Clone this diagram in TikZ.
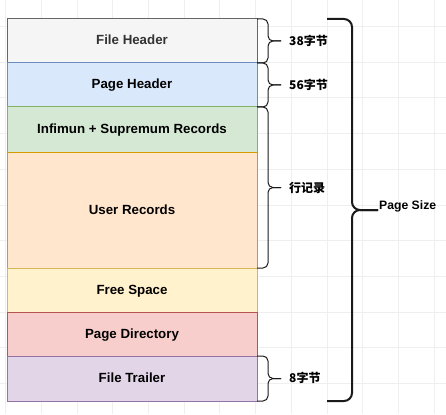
\documentclass[tikz,border=0pt]{standalone}
\usepackage{fontspec}
\setmainfont{Liberation Sans}
\newfontfamily\cjk{Noto Sans CJK SC}
\definecolor{gridc}{HTML}{EFEFEF}
\definecolor{fhF}{HTML}{F5F5F5}\definecolor{fhD}{HTML}{666666}\definecolor{fhT}{HTML}{333333}
\definecolor{phF}{HTML}{DAE8FC}\definecolor{phD}{HTML}{6C8EBF}
\definecolor{isF}{HTML}{D5E8D4}\definecolor{isD}{HTML}{82B366}
\definecolor{urF}{HTML}{FFE6CC}\definecolor{urD}{HTML}{D79B00}
\definecolor{fsF}{HTML}{FFF2CC}\definecolor{fsD}{HTML}{D6B656}
\definecolor{pdF}{HTML}{F8CECC}\definecolor{pdD}{HTML}{B85450}
\definecolor{ftF}{HTML}{E1D5E7}\definecolor{ftD}{HTML}{9673A6}
\definecolor{brc}{HTML}{1A1A1A}
\newcommand\mybrace[6]{% x0 x1 x2 y0 y1 radius
  \draw[rounded corners=#6] (#1,#4) -- (#2,#4) -- (#2,{(#4+#5)/2}) -- (#3,{(#4+#5)/2});
  \draw[rounded corners=#6] (#1,#5) -- (#2,#5) -- (#2,{(#4+#5)/2}) -- (#3,{(#4+#5)/2});}
\tikzset{
  seg/.style={draw, line width=1pt, minimum width=250pt, inner sep=0pt,
    font=\fontsize{13.3}{15}\selectfont\bfseries, text height=0.95em, text depth=0.15em},
  lab/.style={anchor=west, inner sep=1pt, font=\cjk\fontsize{12}{14}\selectfont\bfseries},
  sbrace/.style={line width=1pt, draw=brc},
  bbrace/.style={line width=2pt, draw=brc}
}
\begin{document}
\begin{tikzpicture}[x=1pt,y=-1pt]
\useasboundingbox (0,0) rectangle (446,414);
\foreach \k in {0,...,12} {
  \draw[gridc, line width=0.8pt] ({5.6+35.7*\k},0) -- ({5.6+35.7*\k},414);
}
\foreach \k in {0,...,11} {
  \draw[gridc, line width=0.8pt] (0,{26.5+35.7*\k}) -- (446,{26.5+35.7*\k});
}
\node[seg, fill=fhF, draw=fhD, text=fhT, minimum height=44pt] (fh) at (132,41) {File Header};
\node[seg, fill=phF, draw=phD, minimum height=44pt] (ph) at (132,85) {Page Header};
\node[seg, fill=isF, draw=isD, minimum height=45pt] (is) at (132,129.5) {Infimun + Supremum Records};
\node[seg, fill=urF, draw=urD, minimum height=116pt] (ur) at (132,210) {User Records};
\node[seg, fill=fsF, draw=fsD, minimum height=44pt] (fs) at (132,290) {Free Space};
\node[seg, fill=pdF, draw=pdD, minimum height=44pt] (pd) at (132,334) {Page Directory};
\node[seg, fill=ftF, draw=ftD, minimum height=45pt] (ft) at (132,378.5) {File Trailer};
\begin{scope}[sbrace]
  \mybrace{257}{268}{281}{19}{63}{5pt}
  \mybrace{257}{268}{281}{63}{107}{5pt}
  \mybrace{257}{268}{281}{107}{268}{5pt}
  \mybrace{257}{268}{281}{356}{401}{5pt}
\end{scope}
\begin{scope}[bbrace]
  \mybrace{327}{352}{378}{19}{401}{8pt}
\end{scope}
\node[lab] (l1) at (288,41) {38字节};
\node[lab] (l2) at (288,85) {56字节};
\node[lab] (l3) at (288,188) {行记录};
\node[lab] (l4) at (288,378) {8字节};
\node[lab, font=\fontsize{12.2}{14}\selectfont\bfseries] (ps) at (378,206) {Page Size};
\end{tikzpicture}
\end{document}
